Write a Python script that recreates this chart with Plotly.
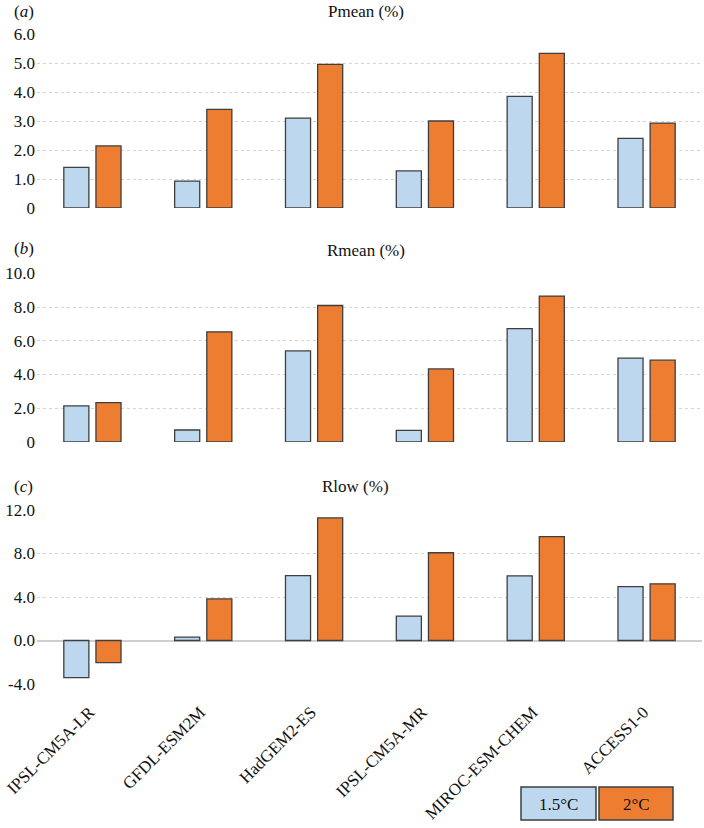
import plotly.graph_objects as go

# ---- data ----
models = ["IPSL-CM5A-LR", "GFDL-ESM2M", "HadGEM2-ES", "IPSL-CM5A-MR", "MIROC-ESM-CHEM", "ACCESS1-0"]
series_names = ["1.5°C", "2°C"]

pmean_15 = [1.40, 0.93, 3.10, 1.28, 3.85, 2.40]
pmean_20 = [2.14, 3.40, 4.95, 3.00, 5.33, 2.93]

rmean_15 = [2.14, 0.71, 5.40, 0.69, 6.72, 4.97]
rmean_20 = [2.33, 6.53, 8.09, 4.33, 8.65, 4.85]

rlow_15 = [-3.42, 0.31, 5.97, 2.25, 5.95, 4.96]
rlow_20 = [-2.03, 3.82, 11.27, 8.07, 9.55, 5.21]

panel_titles = ["Pmean (%)", "Rmean (%)", "Rlow (%)"]
panel_letters = ["a", "b", "c"]

pmean_ticks = [0, 1, 2, 3, 4, 5, 6]
pmean_ticktext = ["0", "1.0", "2.0", "3.0", "4.0", "5.0", "6.0"]
rmean_ticks = [0, 2, 4, 6, 8, 10]
rmean_ticktext = ["0", "2.0", "4.0", "6.0", "8.0", "10.0"]
rlow_ticks = [-4, 0, 4, 8, 12]
rlow_ticktext = ["-4.0", "0.0", "4.0", "8.0", "12.0"]

# ---- styling ----
W, H = 704, 828
ML, MR = 37, 2
PW = W - ML - MR
colors = ["#BDD7EE", "#ED7D31"]
edge = "#3f3f3f"
FONT = "Liberation Serif, Times New Roman, serif"
grid = "#d4d4d4"


def px(x):
    return (x - ML) / PW


def py(y):
    return 1 - y / H


fig = go.Figure()

panels = [
    (pmean_15, pmean_20, pmean_ticks, pmean_ticktext, [0, 6], (208, 34)),
    (rmean_15, rmean_20, rmean_ticks, rmean_ticktext, [0, 10], (442, 273.3)),
    (rlow_15, rlow_20, rlow_ticks, rlow_ticktext, [-4, 12], (684, 510)),
]

for i, (v15, v20, tv, tt, rng, (ybot, ytop)) in enumerate(panels):
    n = i + 1
    xa = "x" if n == 1 else f"x{n}"
    ya = "y" if n == 1 else f"y{n}"
    for vals, name, col in zip([v15, v20], series_names, colors):
        fig.add_trace(go.Bar(
            x=models, y=vals, name=name, xaxis=xa, yaxis=ya,
            marker=dict(color=col, line=dict(color=edge, width=1.3)),
            showlegend=False,
        ))
    xkey = "xaxis" if n == 1 else f"xaxis{n}"
    ykey = "yaxis" if n == 1 else f"yaxis{n}"
    fig.layout[xkey] = dict(
        domain=[0, 1], anchor=ya, showticklabels=(n == 3), showgrid=False,
        zeroline=False, showline=False, ticks="", automargin=False,
        tickangle=-45, tickfont=dict(family=FONT, size=17, color="#111"),
        ticklabelstandoff=14, ticklabelshift=-3,
        categoryorder="array", categoryarray=models,
    )
    fig.layout[ykey] = dict(
        domain=[py(ybot), py(ytop)], anchor=xa, range=rng,
        tickvals=tv, ticktext=tt, showgrid=True, gridcolor=grid, griddash="dot",
        gridwidth=1, zeroline=(n == 3), zerolinecolor="#cfcfcf", zerolinewidth=1.6,
        showline=False, ticks="", automargin=False, ticklabelstandoff=1,
        tickfont=dict(family=FONT, size=17, color="#111"),
    )

# titles and panel letters
title_pos = [(366, 12), (366, 250), (355, 487)]
letter_pos = [(12, 12), (12, 248), (12, 487)]
for t, (tx, ty) in zip(panel_titles, title_pos):
    fig.add_annotation(text=t, x=px(tx), y=py(ty), xref="paper", yref="paper",
                       xanchor="center", yanchor="middle", showarrow=False,
                       font=dict(family=FONT, size=17, color="#111"))
for L, (lx, ly) in zip(panel_letters, letter_pos):
    fig.add_annotation(text=f"(<i>{L}</i>)", x=px(lx), y=py(ly), xref="paper", yref="paper",
                       xanchor="left", yanchor="middle", showarrow=False,
                       font=dict(family=FONT, size=17, color="#111"))

# legend boxes
leg_boxes = [(521, 596), (599, 673)]
for name, col, (x0, x1) in zip(series_names, colors, leg_boxes):
    fig.add_shape(type="rect", xref="paper", yref="paper",
                  x0=px(x0), x1=px(x1), y0=py(820), y1=py(787),
                  fillcolor=col, line=dict(color=edge, width=1.5))
    fig.add_annotation(text=name, x=px((x0 + x1) / 2), y=py(804), xref="paper", yref="paper",
                       xanchor="center", yanchor="middle", showarrow=False,
                       font=dict(family=FONT, size=17, color="#111"))

fig.update_layout(
    width=W, height=H, margin=dict(l=ML, r=MR, t=0, b=0),
    barmode="group", bargap=0.42, bargroupgap=0.22,
    plot_bgcolor="white", paper_bgcolor="white", showlegend=False,
    font=dict(family=FONT),
)

fig.write_html(
    "out.html",
    config={"displayModeBar": False},
    post_script="document.body.style.margin='0px';document.body.style.padding='0px';"
                "document.body.style.overflow='hidden';",
)
